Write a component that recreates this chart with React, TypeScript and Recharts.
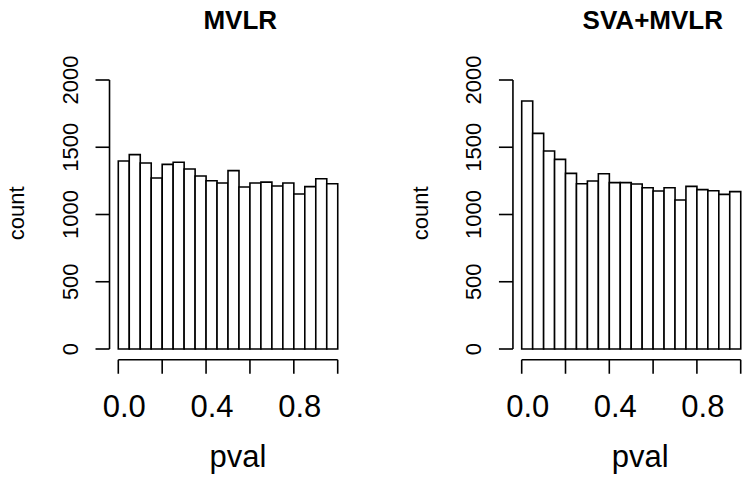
import React from "react";
import { BarChart, Bar, XAxis, YAxis, ReferenceLine } from "recharts";

// histogram bins (mid points of 0.05 wide bins)
const binMids = [
  0.025, 0.075, 0.125, 0.175, 0.225, 0.275, 0.325, 0.375, 0.425, 0.475,
  0.525, 0.575, 0.625, 0.675, 0.725, 0.775, 0.825, 0.875, 0.925, 0.975,
];
const mvlrCounts = [
  1398, 1445, 1383, 1271, 1373, 1388, 1338, 1286, 1251, 1234,
  1326, 1204, 1234, 1241, 1212, 1234, 1152, 1207, 1266, 1229,
];
const svaCounts = [
  1844, 1603, 1472, 1410, 1306, 1229, 1249, 1303, 1237, 1237,
  1227, 1199, 1175, 1199, 1108, 1209, 1185, 1177, 1150, 1170,
];
const xTicks = [0, 0.2, 0.4, 0.6, 0.8, 1];
const xTickLabels = ["0.0", "", "0.4", "", "0.8", ""];
const yTicks = [0, 500, 1000, 1500, 2000];
const yTickLabels = ["0", "500", "1000", "1500", "2000"];

const FONT = "'Liberation Sans', Arial, Helvetica, sans-serif";
const LW = 1.6;
const TICK = 14;

// tick mark + label drawn together so the mark always meets the axis line
const XTick = (props: any) => {
  const { x, y, payload } = props;
  const label = xTickLabels[xTicks.indexOf(payload.value)] ?? "";
  return (
    <g>
      <line x1={x} x2={x} y1={y - TICK} y2={y} stroke="#000" strokeWidth={LW} />
      <text x={x + 6} y={y + 43} textAnchor="middle" fontSize={31} fontFamily={FONT} fill="#000">
        {label}
      </text>
    </g>
  );
};

const YTick = (props: any) => {
  const { x, y, payload } = props;
  const label = yTickLabels[yTicks.indexOf(payload.value)] ?? "";
  const bx = x - 18;
  return (
    <g>
      <line x1={x} x2={x + TICK} y1={y} y2={y} stroke="#000" strokeWidth={LW} />
      <text
        x={bx}
        y={y}
        transform={`rotate(-90 ${bx} ${y})`}
        textAnchor="middle"
        fontSize={22}
        fontFamily={FONT}
        fill="#000"
      >
        {label}
      </text>
    </g>
  );
};

function Hist({ counts, width, margin }: { counts: number[]; width: number; margin: any }) {
  const rows = binMids.map((bin, i) => ({ bin, count: counts[i] }));
  return (
    <BarChart width={width} height={483} data={rows} margin={margin} barCategoryGap={0} barGap={0}>
      <XAxis
        xAxisId="num"
        dataKey="bin"
        type="number"
        domain={[-0.04, 1.04]}
        allowDataOverflow
        ticks={xTicks}
        interval={0}
        axisLine={false}
        tickLine={false}
        tickSize={TICK}
        tickMargin={0}
        height={1}
        tick={<XTick />}
      />
      <XAxis xAxisId="cat" dataKey="bin" type="category" hide height={0} padding={{ left: 8.77, right: 8.77 }} />
      <YAxis
        type="number"
        domain={[-80, 2080]}
        allowDataOverflow
        ticks={yTicks}
        interval={0}
        axisLine={false}
        tickLine={false}
        tickSize={TICK}
        tickMargin={0}
        width={1}
        tick={<YTick />}
      />
      <Bar xAxisId="cat" dataKey="count" fill="#fff" stroke="#000" strokeWidth={LW} isAnimationActive={false} />
      <ReferenceLine
        xAxisId="num"
        segment={[{ x: 0, y: -80 }, { x: 1, y: -80 }]}
        stroke="#000"
        strokeWidth={LW}
        ifOverflow="visible"
      />
      <ReferenceLine
        xAxisId="num"
        segment={[{ x: -0.04, y: 0 }, { x: -0.04, y: 2000 }]}
        stroke="#000"
        strokeWidth={LW}
        ifOverflow="visible"
      />
    </BarChart>
  );
}

export default function App() {
  return (
    <div
      style={{
        position: "absolute",
        left: 0,
        top: 0,
        width: 744,
        height: 483,
        overflow: "hidden",
        background: "#fff",
        fontFamily: FONT,
      }}
    >
      <div style={{ position: "absolute", left: 0, top: 0 }}>
        <Hist counts={mvlrCounts} width={372} margin={{ top: 69.24, left: 108.52, right: 25.52, bottom: 122.24 }} />
      </div>
      <div style={{ position: "absolute", left: 0, top: 0 }}>
        <Hist counts={svaCounts} width={760} margin={{ top: 69.24, left: 511.94, right: 10.54, bottom: 122.24 }} />
      </div>
      <svg width={744} height={483} style={{ position: "absolute", left: 0, top: 0, pointerEvents: "none" }}>
        <g fontFamily={FONT} fill="#000">
          <text x={240.3} y={29.3} textAnchor="middle" fontSize={26} fontWeight="bold">MVLR</text>
          <text x={652.8} y={29.3} textAnchor="middle" fontSize={26} fontWeight="bold">SVA+MVLR</text>
          <text x={24} y={213.3} transform="rotate(-90 24 213.3)" textAnchor="middle" fontSize={22}>count</text>
          <text x={428} y={213.3} transform="rotate(-90 428 213.3)" textAnchor="middle" fontSize={22}>count</text>
          <text x={238} y={466.7} textAnchor="middle" fontSize={31}>pval</text>
          <text x={640.3} y={466.7} textAnchor="middle" fontSize={31}>pval</text>
        </g>
      </svg>
    </div>
  );
}
